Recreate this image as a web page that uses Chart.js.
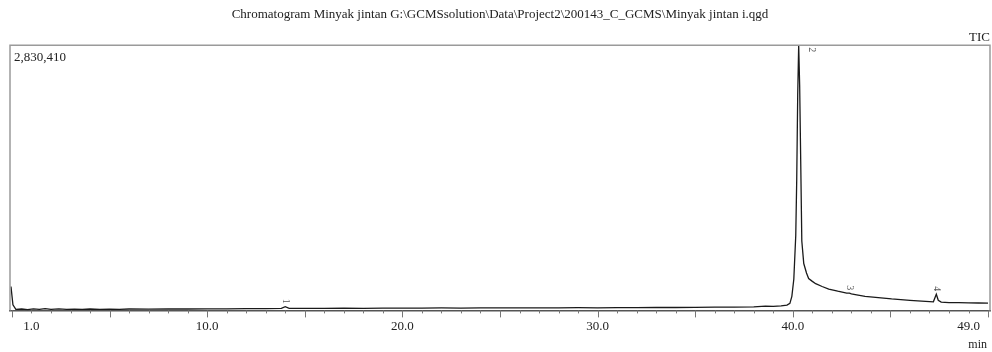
<!DOCTYPE html>
<html lang="en">
<head>
  <meta charset="UTF-8" />
  <title>Chromatogram Minyak jintan</title>
  <script src="https://cdn.jsdelivr.net/npm/chart.js"></script>
  <style>
    html, body { margin: 0; padding: 0; background: #fff; }
    #wrap { width: 992px; height: 352px; }
  </style>
</head>
<body>
  <div id="wrap"><canvas id="chrom"></canvas></div>

  <script>
    // retention time (min) and TIC intensity
    const retentionTimes = [
      -0.05, 0.05, 0.2, 0.5, 0.8, 1.1, 1.4, 1.7, 2.0, 2.4, 2.8, 3.2, 3.6, 4.0, 4.5, 5.0, 5.5, 6.0,
      7.0, 8.0, 9.0, 10.0, 11.0, 12.0, 13.0, 13.8, 14.0, 14.2, 15.0, 16.0, 17.0, 18.0, 19.0, 20.0,
      21.0, 22.0, 23.0, 24.0, 25.0, 26.0, 27.0, 28.0, 29.0, 30.0, 31.0, 32.0, 33.0, 34.0, 35.0,
      36.0, 37.0, 38.0, 38.6, 39.0, 39.4, 39.7, 39.85, 39.95, 40.05, 40.15, 40.2, 40.25, 40.3,
      40.35, 40.41, 40.46, 40.56, 40.7, 40.81, 41.0, 41.17, 41.5, 41.84, 42.3, 42.76, 42.9, 43.0,
      43.2, 43.7, 44.24, 45.06, 46.0, 46.8, 47.2, 47.35, 47.45, 47.6, 48.0, 48.5, 49.0, 49.5, 50.0
    ];
    const ticIntensity = [
      255000, 60000, 12000, 15000, 9000, 17000, 11000, 19000, 12000, 16000, 10000, 14000, 11000, 15000, 12000, 14000, 12000, 15000,
      14000, 17000, 15000, 16000, 17000, 19000, 20000, 21000, 40000, 22000, 21000, 22000, 23000, 22000, 24000, 25000,
      24000, 26000, 25000, 27000, 26000, 27000, 28000, 27000, 29000, 28000, 29000, 30000, 31000, 31000, 33000,
      34000, 36000, 38000, 46000, 42000, 48000, 56000, 75000, 150000, 333000, 800000, 1400000, 2300000, 2830410,
      2400000, 1500000, 740000, 500000, 400000, 340000, 310000, 285000, 255000, 228000, 205000, 185000, 184000, 176000,
      168000, 150000, 140000, 122000, 106000, 96000, 92000, 172000, 108000, 88000, 84000, 82000, 80000, 79000, 78000
    ];

    const peakTimes  = [14.0, 40.3, 42.9, 47.35];
    const peakNames  = ['1', '2', '3', '4'];
    const tickLabelTimes = [1.0, 10.0, 20.0, 30.0, 40.0, 49.0];
    const xRange = [-0.1, 50.1];
    const yMaxCount = 2830410;

    const serif = "'Liberation Serif', 'DejaVu Serif', serif";

    function valueAt(t) {
      let best = 0;
      retentionTimes.forEach((rt, i) => {
        if (Math.abs(rt - t) < 0.12 && ticIntensity[i] > best) best = ticIntensity[i];
      });
      return best;
    }

    const chromFrame = {
      id: 'chromFrame',
      afterDraw(chart) {
        const { ctx, chartArea: a, scales: { x, y } } = chart;
        ctx.save();

        // gray box on top / left / right
        ctx.strokeStyle = '#9a9a9a';
        ctx.lineWidth = 1.5;
        ctx.beginPath();
        ctx.moveTo(a.left, a.bottom);
        ctx.lineTo(a.left, a.top);
        ctx.lineTo(a.right, a.top);
        ctx.lineTo(a.right, a.bottom);
        ctx.stroke();

        // minute ticks below the axis, longer every 5 min
        ctx.strokeStyle = '#777';
        ctx.lineWidth = 1;
        for (let m = 0; m <= 50; m++) {
          const px = Math.round(x.getPixelForValue(m)) + 0.5;
          const len = m % 5 === 0 ? 7 : 3;
          ctx.beginPath();
          ctx.moveTo(px, a.bottom);
          ctx.lineTo(px, a.bottom + len);
          ctx.stroke();
        }

        ctx.fillStyle = '#222';
        ctx.textBaseline = 'middle';

        // full-scale value
        ctx.font = '13px ' + serif;
        ctx.textAlign = 'left';
        ctx.fillText(yMaxCount.toLocaleString('en-US'), a.left + 4, a.top + 12);

        // time unit under the last label
        ctx.font = '12px ' + serif;
        ctx.textAlign = 'right';
        ctx.fillText('min', a.right - 3, a.bottom + 34);

        // peak numbers, rotated
        ctx.font = '10px ' + serif;
        ctx.fillStyle = '#555';
        peakTimes.forEach((t, i) => {
          const px = x.getPixelForValue(t);
          const py = y.getPixelForValue(valueAt(t)) - 3;
          ctx.save();
          if (py - 10 < a.top) {
            ctx.translate(px + 13, a.top + 2);
            ctx.rotate(Math.PI / 2);
            ctx.textAlign = 'left';
          } else {
            ctx.translate(px, py);
            ctx.rotate(Math.PI / 2);
            ctx.textAlign = 'right';
          }
          ctx.fillText(peakNames[i], 0, 0);
          ctx.restore();
        });

        ctx.restore();
      }
    };

    new Chart(document.getElementById('chrom'), {
      type: 'line',
      data: {
        labels: retentionTimes,
        datasets: [{
          label: 'TIC',
          data: retentionTimes.map((t, i) => ({ x: t, y: ticIntensity[i] })),
          borderColor: '#1a1a1a',
          borderWidth: 1.3,
          pointRadius: 0,
          tension: 0,
          fill: false
        }]
      },
      options: {
        responsive: true,
        maintainAspectRatio: false,
        animation: false,
        layout: { padding: { left: 10, right: 2, top: 1, bottom: 10 } },
        plugins: {
          legend: { display: false },
          tooltip: { enabled: false },
          title: {
            display: true,
            text: 'Chromatogram Minyak jintan G:\\GCMSsolution\\Data\\Project2\\200143_C_GCMS\\Minyak jintan i.qgd',
            color: '#222',
            font: { family: serif, size: 13, weight: 'normal' },
            padding: { top: 6, bottom: 4 }
          },
          subtitle: {
            display: true,
            text: 'TIC',
            align: 'end',
            color: '#222',
            font: { family: serif, size: 13 },
            padding: { top: 3, bottom: 0 }
          }
        },
        scales: {
          x: {
            type: 'linear',
            min: xRange[0],
            max: xRange[1],
            grid: { display: false, drawTicks: false },
            border: { display: true, color: '#555', width: 1.5 },
            afterBuildTicks: scale => {
              scale.ticks = tickLabelTimes.map(v => ({ value: v }));
            },
            ticks: {
              autoSkip: false,
              maxRotation: 0,
              padding: 8,
              color: '#222',
              font: { family: serif, size: 13 },
              callback: v => Number(v).toFixed(1)
            }
          },
          y: {
            display: false,
            min: 0,
            max: yMaxCount
          }
        }
      },
      plugins: [chromFrame]
    });
  </script>
</body>
</html>
